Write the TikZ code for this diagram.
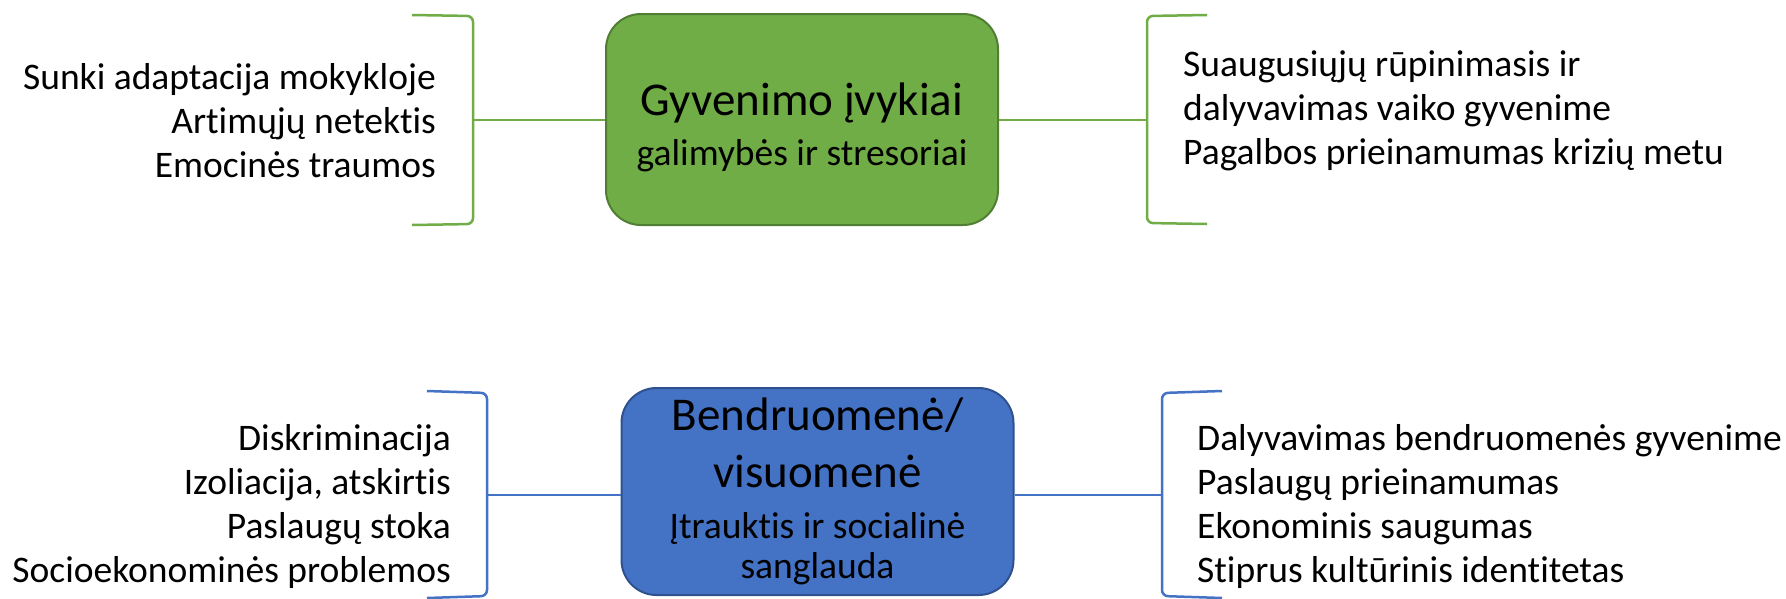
\documentclass[tikz,border=0pt]{standalone}
\usepackage{fontspec}
\setmainfont{Carlito}[Ligatures={NoCommon}]
\definecolor{gfill}{HTML}{70AD47}
\definecolor{gdraw}{HTML}{507E32}
\definecolor{bfill}{HTML}{4472C4}
\definecolor{bdraw}{HTML}{2F528F}
\begin{document}
\begin{tikzpicture}[x=1pt,y=-1pt,
  box/.style={rectangle, rounded corners=35pt, line width=2pt, minimum width=392pt, inner sep=0pt},
  gbox/.style={box, fill=gfill, draw=gdraw},
  bbox/.style={box, fill=bfill, draw=bdraw},
  brk/.style={line width=2.5pt, rounded corners=6pt},
  gbrk/.style={brk, draw=gfill},
  bbrk/.style={brk, draw=bfill},
  item/.style={inner sep=0pt, font=\fontsize{37.5}{44}\selectfont},
  titletext/.style={inner sep=0pt, anchor=base, font=\fontsize{47}{57}\selectfont},
  subtext/.style={inner sep=0pt, anchor=base, font=\fontsize{37.5}{44}\selectfont}
]
\useasboundingbox (0,0) rectangle (1786,598);

% ---------- top group ----------
\node[gbox, minimum height=211pt] (g) at (802,119.5) {};
\node[titletext] (gt) at (802,115) {Gyvenimo įvykiai};
\node[subtext] (gs) at (802,165) {galimybės ir stresoriai};

\coordinate (glm) at (473,120);
\coordinate (grm) at (1147,120);
\draw[gbrk] (412,15) -- (473,16) -- (473,224) -- (412,225);
\draw[gbrk] (1207,15) -- (1147,16) -- (1147,223) -- (1207,224);
\draw[gbrk] (glm) -- (g.west |- glm);
\draw[gbrk] (g.east |- grm) -- (grm);

\node[item, anchor=base east] (gl1) at (436,89) {Sunki adaptacija mokykloje};
\node[item, anchor=base east] (gl2) at (436,133) {Artimųjų netektis};
\node[item, anchor=base east] (gl3) at (436,177) {Emocinės traumos};

\node[item, anchor=base west] (gr1) at (1183,76) {Suaugusiųjų rūpinimasis ir};
\node[item, anchor=base west] (gr2) at (1183,120) {dalyvavimas vaiko gyvenime};
\node[item, anchor=base west] (gr3) at (1183,164) {Pagalbos prieinamumas krizių metu};

% ---------- bottom group ----------
\node[bbox, minimum height=207pt] (b) at (817.5,491.5) {};
\node[titletext] (bt1) at (817.5,430) {Bendruomenė/};
\node[titletext] (bt2) at (817.5,487) {visuomenė};
\node[subtext] (bs1) at (817.5,538) {Įtrauktis ir socialinė};
\node[subtext] (bs2) at (817.5,578) {sanglauda};

\coordinate (blm) at (487,495);
\coordinate (brm) at (1162,495);
\draw[bbrk] (427,391) -- (487,393) -- (487,596) -- (427,598);
\draw[bbrk] (1222,391) -- (1162,393) -- (1162,596) -- (1222,598);
\draw[bbrk] (blm) -- (b.west |- blm);
\draw[bbrk] (b.east |- brm) -- (brm);

\node[item, anchor=base east] (bl1) at (451,450) {Diskriminacija};
\node[item, anchor=base east] (bl2) at (451,494) {Izoliacija, atskirtis};
\node[item, anchor=base east] (bl3) at (451,538) {Paslaugų stoka};
\node[item, anchor=base east] (bl4) at (451,582) {Socioekonominės problemos};

\node[item, anchor=base west] (br1) at (1197,450) {Dalyvavimas bendruomenės gyvenime};
\node[item, anchor=base west] (br2) at (1197,494) {Paslaugų prieinamumas};
\node[item, anchor=base west] (br3) at (1197,538) {Ekonominis saugumas};
\node[item, anchor=base west] (br4) at (1197,582) {Stiprus kultūrinis identitetas};
\end{tikzpicture}
\end{document}
